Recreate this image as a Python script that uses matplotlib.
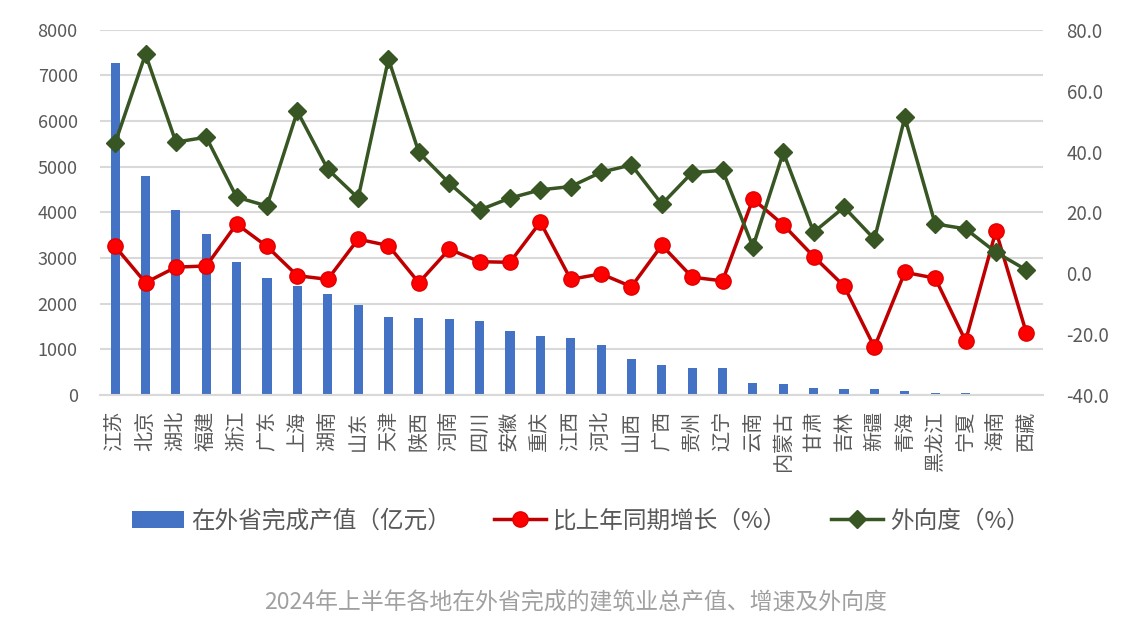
import matplotlib
matplotlib.use('Agg')
import matplotlib.pyplot as plt
from matplotlib.lines import Line2D
from matplotlib.patches import Patch

plt.rcParams['font.family'] = ['Noto Sans CJK SC', 'DejaVu Sans']

provinces = ['江苏', '北京', '湖北', '福建', '浙江', '广东', '上海', '湖南', '山东', '天津',
             '陕西', '河南', '四川', '安徽', '重庆', '江西', '河北', '山西', '广西', '贵州',
             '辽宁', '云南', '内蒙古', '甘肃', '吉林', '新疆', '青海', '黑龙江', '宁夏', '海南', '西藏']

# 在外省完成产值（亿元）
output_value = [7270, 4807, 4055, 3529, 2908, 2557, 2382, 2214, 1965, 1717,
                1680, 1659, 1629, 1410, 1300, 1242, 1103, 796, 650, 599,
                599, 260, 234, 146, 125, 125, 94, 37, 37, 12, 6]

# 比上年同期增长（%）
growth = [8.8, -3.1, 2.0, 2.4, 16.2, 8.8, -0.8, -2.0, 11.2, 9.1,
          -3.1, 7.9, 3.8, 3.6, 16.8, -2.0, -0.2, -4.4, 9.2, -1.3,
          -2.5, 24.4, 15.9, 5.5, -4.2, -24.3, 0.3, -1.6, -22.2, 13.9, -19.5]

# 外向度（%）
openness = [42.8, 72.0, 43.1, 44.7, 25.0, 22.1, 53.2, 34.2, 24.7, 70.4,
            39.7, 29.6, 20.8, 24.7, 27.4, 28.5, 33.2, 35.6, 22.7, 33.1,
            33.8, 8.7, 39.7, 13.5, 21.7, 11.2, 51.2, 16.2, 14.6, 6.9, 1.1]

left_ticks = list(range(0, 8001, 1000))
right_ticks = list(range(-40, 81, 20))

tick_color = '#595959'
bar_color = '#4472C4'
red_line = '#C00000'
red_marker = '#FF0000'
green = '#375623'

fig = plt.figure(figsize=(11.41, 6.34), dpi=100)
ax = fig.add_axes([0.0876, 0.377, 0.8265, 0.576])
x = list(range(len(provinces)))

ax.bar(x, output_value, width=0.3, color=bar_color, zorder=2)
ax.set_xlim(-0.5, len(provinces) - 0.45)
ax.set_ylim(0, 8000)
ax.set_yticks(left_ticks)
ax.set_xticks(x)
ax.set_xticklabels(provinces, rotation=90)
ax.grid(axis='y', color='#d9d9d9', linewidth=1.5, zorder=0)
ax.set_axisbelow(True)
for s in ['top', 'right', 'left']:
    ax.spines[s].set_visible(False)
ax.spines['bottom'].set_color('#d9d9d9')
ax.spines['bottom'].set_linewidth(1.5)
ax.tick_params(axis='y', length=0, pad=16, labelsize=13, labelcolor=tick_color)
ax.tick_params(axis='x', length=0, pad=11, labelsize=14.5, labelcolor=tick_color)

ax2 = ax.twinx()
ax2.plot(x, growth, color=red_line, linewidth=2.5, marker='o', markersize=11,
         markerfacecolor=red_marker, markeredgecolor='#E00000', zorder=3)
ax2.plot(x, openness, color=green, linewidth=2.5, marker='D', markersize=9,
         markerfacecolor=green, markeredgecolor=green, zorder=3)
ax2.set_ylim(-40, 80)
ax2.set_yticks(right_ticks)
ax2.set_yticklabels(['{:.1f}'.format(t) for t in right_ticks])
for s in ax2.spines.values():
    s.set_visible(False)
ax2.tick_params(axis='y', which='major', length=0, pad=17, labelsize=13.5,
                labelcolor=tick_color)

handles = [
    Patch(facecolor=bar_color, edgecolor='none'),
    Line2D([0], [0], color=red_line, linewidth=2.5, marker='o', markersize=11,
           markerfacecolor=red_marker, markeredgecolor='#E00000'),
    Line2D([0], [0], color=green, linewidth=2.5, marker='D', markersize=9,
           markerfacecolor=green, markeredgecolor=green),
]
labels = ['在外省完成产值（亿元）', '比上年同期增长（%）', '外向度（%）']
leg = fig.legend(handles, labels, loc='center', bbox_to_anchor=(0.509, 0.178), ncol=3,
                 frameon=False, fontsize=17, handlelength=2.2, handletextpad=0.3,
                 columnspacing=1.85)
for t in leg.get_texts():
    t.set_color(tick_color)

fig.text(0.504, 0.049, '2024年上半年各地在外省完成的建筑业总产值、增速及外向度',
         ha='center', va='center', fontsize=16.5, color='#a0a0a0')

fig.savefig('out.png', dpi=100)
